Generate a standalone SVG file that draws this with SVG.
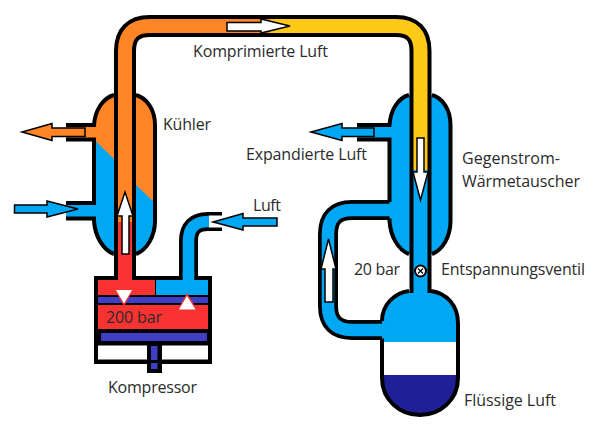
<svg xmlns="http://www.w3.org/2000/svg" width="605" height="424" viewBox="0 0 605 424">
<style>
  text { font-family: "Open Sans", "Noto Sans", sans-serif; font-size: 16px; fill: #2b2b2b; }
  .wall { fill: none; stroke: #000; stroke-width: 4; }
  .outer { fill: none; stroke: #000; stroke-width: 22; }
  .run { fill: none; stroke-width: 14; }
  .blue { fill: #00a8f3; }
  .orange { fill: #ff8526; }
  .red { fill: #f93232; }
  .dark { fill: #3f3fc6; }
  .arrow { stroke: #000; stroke-width: 1.5; stroke-linejoin: miter; }
  .white { fill: #fff; }
</style>
<rect width="605" height="424" fill="#fff"/>

<g id="connectors">
  <!-- air intake into the compressor -->
  <path d="M188.500,282 V241 Q188.500,221.500 208,221.500 H222" fill="none" stroke="#000" stroke-width="19"/>
  <path d="M188.500,284 V241 Q188.500,221.500 208,221.500 H209" fill="none" stroke="#00a8f3" stroke-width="11.500"/>
  <rect x="209" y="215.500" width="14" height="12" class="white"/>
  <!-- return line from the tank to the exchanger -->
  <path d="M390,210 H352 Q328,210 328,234 V306 Q328,330 352,330 H383" fill="none" stroke="#000" stroke-width="20"/>
  <path d="M394,210 H352 Q328,210 328,234 V306 Q328,330 352,330 H386" fill="none" stroke="#00a8f3" stroke-width="12.500"/>
</g>

<g id="cooler">
  <path class="blue" d="M114,95 C103,98 95,110 94,125 H66 V139.500 H94 V203 H66 V218.500 H94 V221 C95,236 103,250 114,254 H136 C147,250 155,236 155,221 V125 C155,110 147,98 136,95 Z"/>
  <path class="orange" d="M114,95 C103,98 95,110 94,125 H66 V139.500 H94 L114,159 Z"/>
  <path class="orange" d="M136,95 C147,98 155,110 155,125 V203 L136,185 Z"/>
  <path class="wall" d="M114,95 C103,98 95,110 94,125 H66 M66,139.500 H94 V203 H66 M66,218.500 H94 V221 C95,236 103,250 114,254 M136,254 C147,250 155,236 155,221 V125 C155,110 147,98 136,95"/>
</g>

<g id="exchanger">
  <path class="blue" d="M409,95 C398,98 390.500,110 389.500,125 H357 V139.500 H389.500 V221 C390.500,236 398,250 409,254 H432 C443,250 450.500,236 450.500,221 V125 C450.500,110 443,98 432,95 Z"/>
  <path class="wall" d="M409,95 C398,98 390.500,110 389.500,125 H357 M357,139.500 H389.500 V202 M389.500,218.500 V221 C390.500,236 398,250 409,254 M432,254 C443,250 450.500,236 450.500,221 V125 C450.500,110 443,98 432,95"/>
</g>

<g id="tank">
  <clipPath id="tank-shape"><path d="M409,291 C394,293 382,305 382,323 V378 C382,400 400,415 420,415 C440,415 458,400 458,378 V323 C458,305 446,293 431,291 Z"/></clipPath>
  <g clip-path="url(#tank-shape)">
    <rect x="380" y="288" width="80" height="54" class="blue"/>
    <rect x="380" y="342" width="80" height="33" class="white"/>
    <rect x="380" y="375" width="80" height="42" fill="#1f1f96"/>
  </g>
  <path class="wall" d="M409,291 C394,293 382,305 382,321 M382,338.500 V378 C382,400 400,415 420,415 C440,415 458,400 458,378 V323 C458,305 446,293 431,291"/>
</g>

<g id="pipework">
  <!-- high-pressure line over the top -->
  <path class="outer" d="M125,278 V51 Q125,26 150,26 H396 Q420.500,26 420.500,51 V293"/>
  <path class="run" stroke="#00a8f3" d="M420.500,170 V300"/>
  <path class="run" stroke="#ffc917" d="M270,26 H396 Q420.500,26 420.500,51 V170"/>
  <path class="run" stroke="#ff8526" d="M125,222 V51 Q125,26 150,26 H270"/>
  <path class="run" stroke="#f93232" d="M125,222 V282"/>
</g>

<g id="compressor">
  <rect x="94" y="276" width="118" height="88"/>
  <rect x="147" y="360" width="15" height="13"/>
  <rect x="98" y="280" width="57" height="15" class="red"/>
  <rect x="156" y="280" width="52" height="15" class="blue"/>
  <rect x="118" y="272" width="14" height="10" class="red"/>
  <rect x="182.750" y="272" width="11.500" height="10" class="blue"/>
  <rect x="98" y="297" width="110" height="6" class="dark"/>
  <rect x="98" y="305" width="110" height="24" class="red"/>
  <rect x="101" y="333" width="106" height="8" class="dark"/>
  <rect x="98" y="345.500" width="110" height="14" class="white"/>
  <rect x="147" y="345" width="15" height="15"/>
  <rect x="151" y="346" width="6.500" height="14" class="dark"/>
  <rect x="151" y="363" width="6.500" height="6" class="dark"/>
  <path d="M114,289 H134 L124,306 Z" class="red"/>
  <path d="M116,290 H132 L124,303.500 Z" class="white"/>
  <path d="M187,293 L198,311 H177 Z" class="red"/>
  <path d="M187,296 L195.500,309.500 H179 Z" class="white"/>
  <text x="106" y="323" textLength="56">200 bar</text>
  <text x="108" y="393" textLength="89">Kompressor</text>
</g>

<g id="valve">
  <circle cx="420.500" cy="271" r="5.500" fill="#fff" stroke="#000" stroke-width="2"/>
  <path d="M418,268.500 L423,273.500 M423,268.500 L418,273.500" stroke="#000" stroke-width="1.200"/>
</g>

<g id="flow-arrows">
  <path class="arrow orange" d="M85,128 H52 V123.500 L22,132 L52,140.500 V136.500 H85 Z"/>
  <path class="arrow blue" d="M14.500,205 H47 V201 L78,209 L47,217 V213 H14.500 Z"/>
  <path class="arrow blue" d="M277,218 H243 V213.500 L213,222 L243,230 V226 H277 Z"/>
  <path class="arrow blue" d="M374,128 H342 V123.500 L311,132 L342,140.500 V136.500 H374 Z"/>
  <path class="arrow white" d="M122,254 V216 H117 L125,192 L133,216 H129 V254 Z"/>
  <path class="arrow white" d="M417,138 V172 H413 L420.500,200 L428,172 H424 V138 Z"/>
  <path class="arrow white" d="M325,302 V269 H321 L328.500,239 L336,269 H333 V302 Z"/>
  <path class="arrow white" d="M227,22.500 H261 V19 L290,26 L261,33 V31 H227 Z"/>
</g>

<g id="labels">
  <text x="193" y="57" textLength="135">Komprimierte Luft</text>
  <text x="163" y="130" textLength="48">Kühler</text>
  <text x="246" y="160" textLength="121">Expandierte Luft</text>
  <text x="253" y="211" textLength="28">Luft</text>
  <text x="462" y="164" textLength="98">Gegenstrom-</text>
  <text x="462" y="187" textLength="118">Wärmetauscher</text>
  <text x="354" y="275" textLength="46">20 bar</text>
  <text x="441" y="275" textLength="144">Entspannungsventil</text>
  <text x="464" y="406" textLength="92">Flüssige Luft</text>
</g>
</svg>
